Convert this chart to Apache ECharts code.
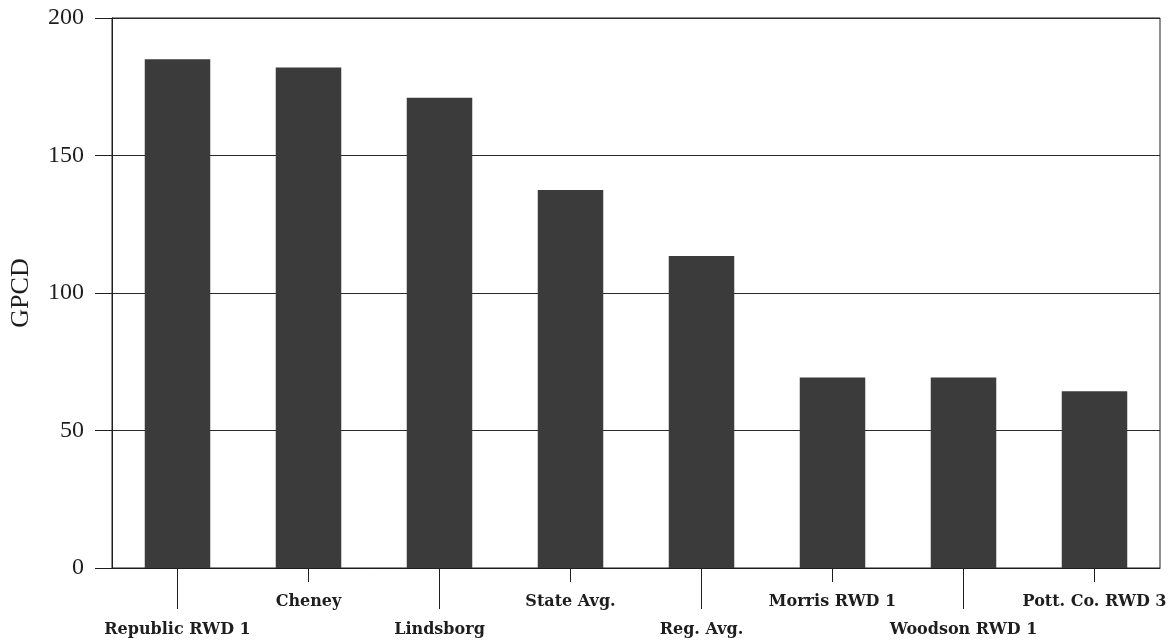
<!DOCTYPE html>
<html>
<head>
<meta charset="utf-8">
<script src="https://cdn.jsdelivr.net/npm/echarts@6/dist/echarts.min.js"></script>
<style>
  html, body { margin: 0; padding: 0; background: #ffffff; }
  #chart { width: 1171px; height: 641px; }
</style>
</head>
<body>
<div id="chart"></div>
<script>
// Per-capita daily water use (gallons per capita per day) by supplier
const categories = ['Republic RWD 1', 'Cheney', 'Lindsborg', 'State Avg.', 'Reg. Avg.', 'Morris RWD 1', 'Woodson RWD 1', 'Pott. Co. RWD 3'];
const gpcd = [185, 182, 171, 137.5, 113.5, 69.3, 69.3, 64.3];
const yTicks = [0, 50, 100, 150, 200];

const ink = '#1e1e1e';
const barColor = '#3b3b3b';
const labelFont = { fontFamily: '"DejaVu Serif", serif', fontWeight: 'bold', fontSize: 16, color: ink };

// Labels alternate between two rows; each row is its own category axis
const isLowerRow = i => i % 2 === 0;

const chart = echarts.init(document.getElementById('chart'), null, { renderer: 'canvas' });
chart.setOption({
  animation: false,
  backgroundColor: '#ffffff',
  grid: {
    left: 111, right: 11, top: 18, bottom: 73,
    show: true, borderColor: ink, borderWidth: 1, backgroundColor: 'transparent'
  },
  xAxis: [
    {
      type: 'category', data: categories, position: 'bottom', gridIndex: 0,
      axisLine: { show: true, lineStyle: { color: ink, width: 1 } },
      axisTick: { show: true, alignWithLabel: true, length: 41, interval: (i) => isLowerRow(i), lineStyle: { color: ink } },
      axisLabel: { ...labelFont, interval: (i) => isLowerRow(i), margin: 54 }
    },
    {
      type: 'category', data: categories, position: 'bottom', gridIndex: 0, offset: 0,
      axisLine: { show: false },
      axisTick: { show: true, alignWithLabel: true, length: 14, interval: (i) => !isLowerRow(i), lineStyle: { color: ink } },
      axisLabel: { ...labelFont, interval: (i) => !isLowerRow(i), margin: 26 }
    }
  ],
  yAxis: {
    type: 'value', min: yTicks[0], max: yTicks[yTicks.length - 1], interval: yTicks[1] - yTicks[0],
    name: 'GPCD', nameLocation: 'middle', nameGap: 78,
    nameTextStyle: { fontFamily: '"Liberation Serif", serif', fontSize: 26, color: ink },
    axisLine: { show: true, lineStyle: { color: ink, width: 1 } },
    axisTick: { show: true, inside: false, length: 17, lineStyle: { color: ink } },
    axisLabel: { fontFamily: '"Liberation Serif", serif', fontSize: 24, color: ink, margin: 28 },
    splitLine: { show: true, lineStyle: { color: '#2a2a2a', width: 1 } }
  },
  series: [{
    type: 'bar', xAxisIndex: 0, data: gpcd, barWidth: '50%',
    itemStyle: { color: barColor }
  }]
});
</script>
</body>
</html>
